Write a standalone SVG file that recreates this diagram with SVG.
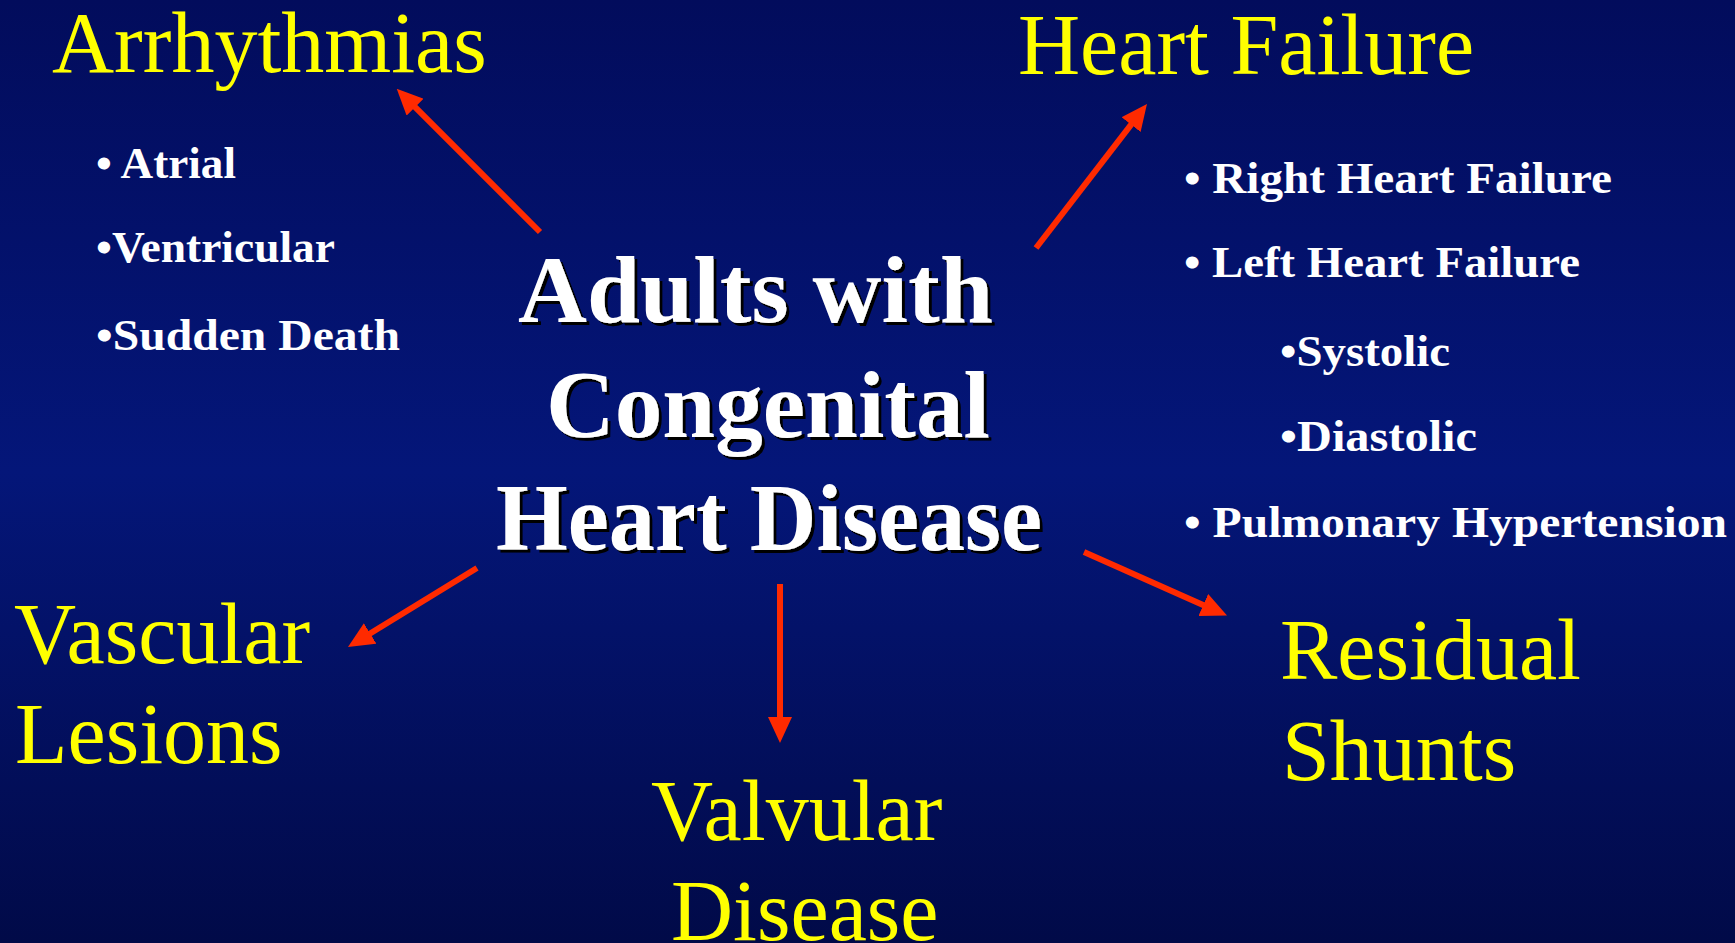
<svg xmlns="http://www.w3.org/2000/svg" width="1735" height="943" viewBox="0 0 1735 943">
  <defs>
    <linearGradient id="bg" x1="0" y1="0" x2="0" y2="1">
      <stop offset="0" stop-color="#020c5c"/>
      <stop offset="0.5" stop-color="#041679"/>
      <stop offset="1" stop-color="#010a48"/>
    </linearGradient>
    <marker id="head" markerUnits="userSpaceOnUse" markerWidth="26" markerHeight="24" refX="1" refY="12" orient="auto">
      <path d="M0,0 L26,12 L0,24 z" fill="#ff2a00"/>
    </marker>
    <filter id="shadow" x="-5%" y="-10%" width="110%" height="130%">
      <feDropShadow dx="3" dy="3" stdDeviation="0.6" flood-color="#000000" flood-opacity="1"/>
    </filter>
    <style>
      .head { font-family: "Liberation Serif", "Times New Roman", serif; font-size: 86px; fill: #ffff00; }
      .bul { font-family: "Liberation Serif", "Times New Roman", serif; font-size: 45px; font-weight: bold; fill: #ffffff; }
      .center { font-family: "Liberation Serif", "Times New Roman", serif; font-size: 95px; font-weight: bold; fill: #ffffff; }
      .arrow { stroke: #ff2a00; stroke-width: 6; fill: none; marker-end: url(#head); }
    </style>
  </defs>
  <rect x="0" y="0" width="1735" height="943" fill="url(#bg)"/>

  <g id="center" filter="url(#shadow)">
    <text class="center" x="518" y="322" textLength="475" lengthAdjust="spacingAndGlyphs">Adults with</text>
    <text class="center" x="546" y="437" textLength="444" lengthAdjust="spacingAndGlyphs">Congenital</text>
    <text class="center" x="496" y="550" textLength="546" lengthAdjust="spacingAndGlyphs">Heart Disease</text>
  </g>

  <g id="arrhythmias">
    <text class="head" x="52" y="72">Arrhythmias</text>
    <text class="bul" x="96" y="178" textLength="140" lengthAdjust="spacingAndGlyphs">• Atrial</text>
    <text class="bul" x="96" y="262" textLength="239" lengthAdjust="spacingAndGlyphs">•Ventricular</text>
    <text class="bul" x="96" y="350" textLength="304" lengthAdjust="spacingAndGlyphs">•Sudden Death</text>
  </g>

  <g id="heart-failure">
    <text class="head" x="1018" y="74">Heart Failure</text>
    <text class="bul" x="1184" y="193" textLength="428" lengthAdjust="spacingAndGlyphs">• Right Heart Failure</text>
    <text class="bul" x="1184" y="277" textLength="396" lengthAdjust="spacingAndGlyphs">• Left Heart Failure</text>
    <text class="bul" x="1280" y="366" textLength="170" lengthAdjust="spacingAndGlyphs">•Systolic</text>
    <text class="bul" x="1280" y="451" textLength="197" lengthAdjust="spacingAndGlyphs">•Diastolic</text>
    <text class="bul" x="1184" y="537" textLength="543" lengthAdjust="spacingAndGlyphs">• Pulmonary Hypertension</text>
  </g>

  <g id="vascular-lesions">
    <text class="head" x="14" y="663">Vascular</text>
    <text class="head" x="15" y="763">Lesions</text>
  </g>

  <g id="valvular-disease">
    <text class="head" x="651" y="840">Valvular</text>
    <text class="head" x="671" y="940">Disease</text>
  </g>

  <g id="residual-shunts">
    <text class="head" x="1280" y="679">Residual</text>
    <text class="head" x="1282" y="780">Shunts</text>
  </g>

  <g id="connectors">
    <line class="arrow" x1="540" y1="232" x2="414.4" y2="106.4"/>
    <line class="arrow" x1="1036" y1="248" x2="1131.7" y2="123.8"/>
    <line class="arrow" x1="477" y1="568" x2="369.3" y2="634"/>
    <line class="arrow" x1="780" y1="584" x2="780" y2="718"/>
    <line class="arrow" x1="1084" y1="552" x2="1204.2" y2="605.4"/>
  </g>
</svg>
